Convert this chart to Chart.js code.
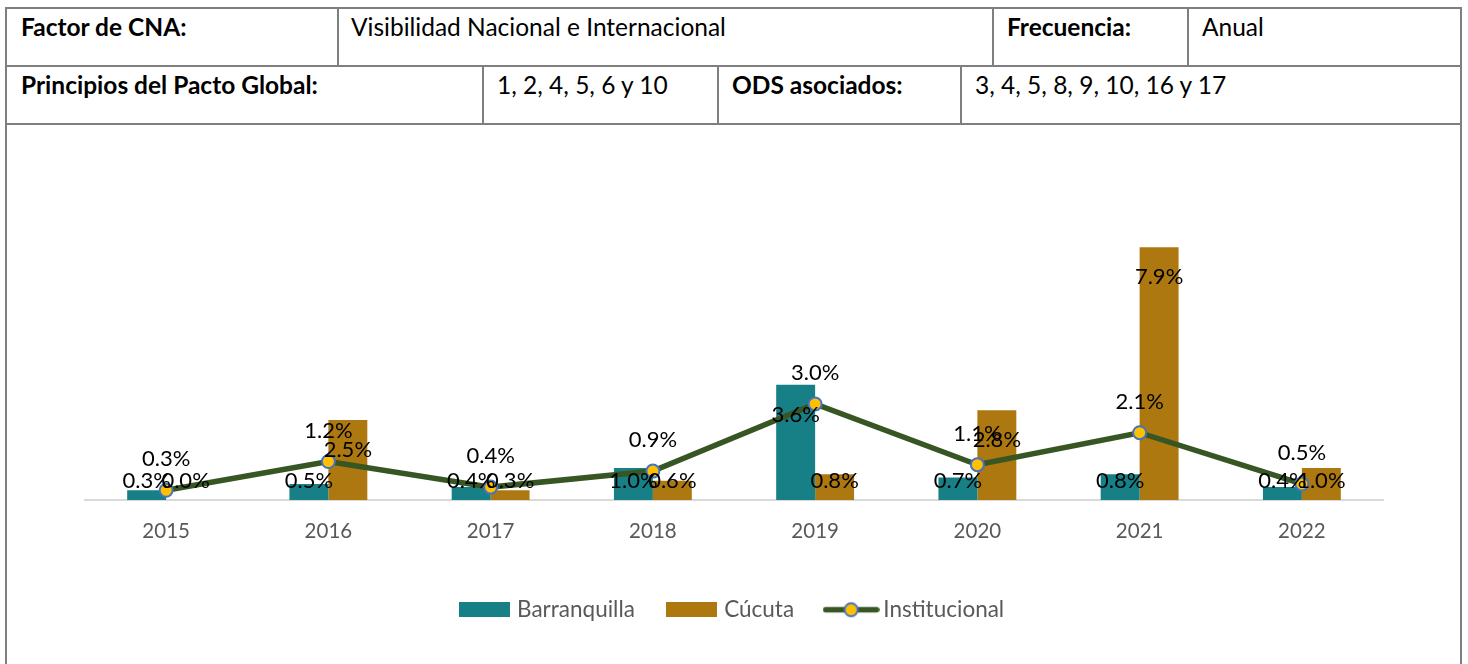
<!DOCTYPE html>
<html lang="es">
<head>
<meta charset="utf-8">
<title>Visibilidad Nacional e Internacional</title>
<script src="https://cdn.jsdelivr.net/npm/chart.js@4.4.1/dist/chart.umd.min.js"></script>
<style>
  html, body { margin: 0; padding: 0; background: #fff; }
  body { width: 1468px; height: 664px; position: relative; overflow: hidden; font-family: Lato, "Liberation Sans", sans-serif; color: #000; }
  .hl { position: absolute; height: 2px; background: #7f7f7f; }
  .vl { position: absolute; width: 2px; background: #7f7f7f; }
  .cell { position: absolute; font-size: 24.5px; line-height: 28px; white-space: nowrap; }
  .b { font-weight: bold; }
  #chartBox { position: absolute; left: 7px; top: 125px; width: 1453px; height: 539px; }
</style>
</head>
<body>
  <!-- table frame -->
  <div class="hl" style="left:5px; top:7px; width:1457px;"></div>
  <div class="hl" style="left:5px; top:65px; width:1457px;"></div>
  <div class="hl" style="left:5px; top:123px; width:1457px;"></div>
  <div class="vl" style="left:5px; top:7px; height:657px;"></div>
  <div class="vl" style="left:1460px; top:7px; height:657px;"></div>
  <div class="vl" style="left:337px; top:7px; height:60px;"></div>
  <div class="vl" style="left:992px; top:7px; height:60px;"></div>
  <div class="vl" style="left:1187px; top:7px; height:60px;"></div>
  <div class="vl" style="left:482px; top:65px; height:60px;"></div>
  <div class="vl" style="left:717px; top:65px; height:60px;"></div>
  <div class="vl" style="left:960px; top:65px; height:60px;"></div>

  <div class="cell b" style="left:21px; top:13px;">Factor de CNA:</div>
  <div class="cell" style="left:351px; top:13px;">Visibilidad Nacional e Internacional</div>
  <div class="cell b" style="left:1007px; top:13px;">Frecuencia:</div>
  <div class="cell" style="left:1202px; top:13px;">Anual</div>
  <div class="cell b" style="left:21px; top:71px;">Principios del Pacto Global:</div>
  <div class="cell" style="left:497px; top:71px;">1, 2, 4, 5, 6 y 10</div>
  <div class="cell b" style="left:732px; top:71px;">ODS asociados:</div>
  <div class="cell" style="left:975px; top:71px;">3, 4, 5, 8, 9, 10, 16 y 17</div>

  <div id="chartBox"><canvas id="chart"></canvas></div>

<script>
// Years on the category axis
const years = ['2015', '2016', '2017', '2018', '2019', '2020', '2021', '2022'];
// Percentages per campus and for the institution as a whole
const barranquilla = [0.3, 0.5, 0.4, 1.0, 3.6, 0.7, 0.8, 0.4];
const cucuta = [0.0, 2.5, 0.3, 0.6, 0.8, 2.8, 7.9, 1.0];
const institucional = [0.3, 1.2, 0.4, 0.9, 3.0, 1.1, 2.1, 0.5];
const seriesNames = ['Barranquilla', 'Cúcuta', 'Institucional'];

const COL_BAQ = '#177f86';
const COL_CUC = '#ac780f';
const COL_LINE = '#375623';
const COL_DOT = '#ffc000';
const COL_DOT_EDGE = '#4472c4';
const FONT = 'Lato, "Liberation Sans", sans-serif';

// Legend swatches: plain boxes for the bars, a line with a marker for the line series
function boxSwatch(color) {
  const c = document.createElement('canvas');
  c.width = 51; c.height = 15;
  const g = c.getContext('2d');
  g.fillStyle = color;
  g.fillRect(0, 0, 51, 15);
  return c;
}
function lineSwatch() {
  const c = document.createElement('canvas');
  c.width = 57; c.height = 17;
  const g = c.getContext('2d');
  g.strokeStyle = COL_LINE;
  g.lineWidth = 5.5;
  g.lineCap = 'round';
  g.beginPath(); g.moveTo(3, 8.5); g.lineTo(54, 8.5); g.stroke();
  g.beginPath(); g.arc(28.5, 8.5, 6.5, 0, Math.PI * 2);
  g.fillStyle = COL_DOT; g.fill();
  g.lineWidth = 2; g.strokeStyle = COL_DOT_EDGE; g.stroke();
  return c;
}
const swatches = [boxSwatch(COL_BAQ), boxSwatch(COL_CUC), lineSwatch()];

// Value labels: bars get theirs inside the top end, the line above each marker
const valueLabels = {
  id: 'valueLabels',
  afterDatasetsDraw(chart) {
    const ctx = chart.ctx;
    ctx.save();
    ctx.font = '22px ' + FONT;
    ctx.fillStyle = '#000';
    ctx.textAlign = 'center';
    ctx.textBaseline = 'middle';
    chart.data.datasets.forEach((ds, i) => {
      const meta = chart.getDatasetMeta(i);
      meta.data.forEach((el, j) => {
        const txt = ds.data[j].toFixed(1) + '%';
        let x = el.x, y;
        if (ds.type === 'line') {
          y = el.y - 31;
        } else {
          y = Math.min(el.y + 30, el.base - 19);
        }
        ctx.fillText(txt, x, y);
      });
    });
    ctx.restore();
  }
};

new Chart(document.getElementById('chart'), {
  data: {
    labels: years,
    datasets: [
      {
        type: 'bar', label: seriesNames[0], data: barranquilla,
        backgroundColor: COL_BAQ, order: 2,
        categoryPercentage: 0.48, barPercentage: 1.0
      },
      {
        type: 'bar', label: seriesNames[1], data: cucuta,
        backgroundColor: COL_CUC, order: 2,
        categoryPercentage: 0.48, barPercentage: 1.0
      },
      {
        type: 'line', label: seriesNames[2], data: institucional,
        borderColor: COL_LINE, borderWidth: 5.5, tension: 0,
        pointRadius: 6.5, pointHoverRadius: 6.5,
        pointBackgroundColor: COL_DOT, pointBorderColor: COL_DOT_EDGE, pointBorderWidth: 2,
        order: 1
      }
    ]
  },
  options: {
    responsive: true,
    maintainAspectRatio: false,
    animation: false,
    layout: { padding: { left: 78, right: 77, top: 87, bottom: 33 } },
    scales: {
      x: {
        offset: true,
        grid: { display: false, drawTicks: false },
        border: { display: true, color: '#d9d9d9', width: 2 },
        ticks: { color: '#595959', font: { family: FONT, size: 20.5 }, padding: 19 }
      },
      y: { display: false, min: 0, max: 9 }
    },
    plugins: {
      tooltip: { enabled: false },
      legend: {
        position: 'bottom',
        labels: {
          usePointStyle: true,
          pointStyleWidth: 42,
          boxHeight: 15,
          padding: 36,
          color: '#595959',
          font: { family: FONT, size: 22.5 },
          generateLabels(chart) {
            return chart.data.datasets.map((ds, i) => ({
              text: ds.label,
              datasetIndex: i,
              pointStyle: swatches[i],
              fillStyle: 'rgba(0,0,0,0)',
              strokeStyle: 'rgba(0,0,0,0)',
              lineWidth: 0,
              fontColor: '#595959',
              hidden: false
            }));
          }
        }
      }
    }
  },
  plugins: [valueLabels]
});
</script>
</body>
</html>
